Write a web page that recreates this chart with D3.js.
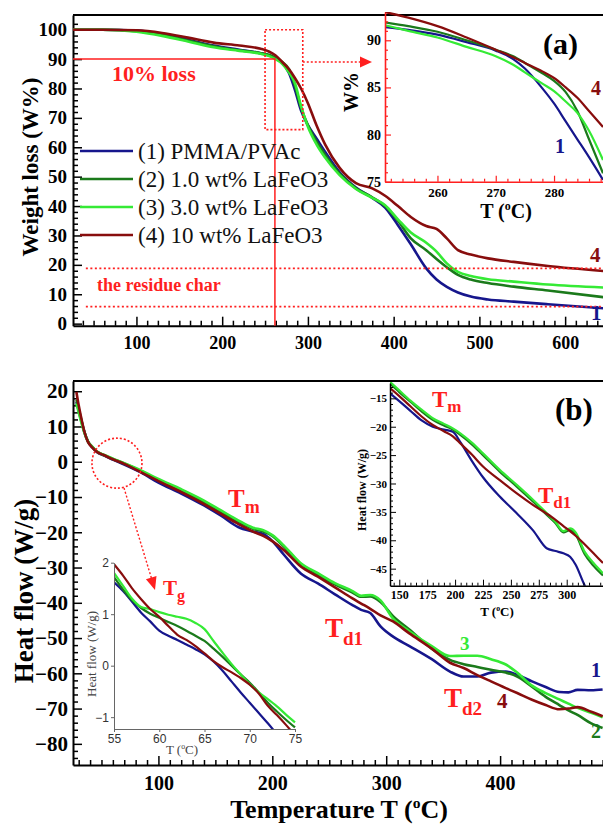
<!DOCTYPE html>
<html>
<head>
<meta charset="utf-8">
<script src="https://cdn.jsdelivr.net/npm/d3@7"></script>
<style>
  body { margin: 0; background: #fff; }
  svg { display: block; }
</style>
</head>
<body>
<svg id="chart" width="603" height="825"></svg>
<script>
// ---- data ----
const seriesNames = ["(1) PMMA/PVAc", "(2) 1.0 wt% LaFeO3", "(3) 3.0 wt% LaFeO3", "(4) 10 wt% LaFeO3"];

// (a) TGA, weight %
const tgaT = [26, 60, 100, 130, 160, 190, 220, 245, 255, 262, 270, 278, 285, 292, 300, 310, 320, 337, 356, 375, 390, 405, 420, 438, 450, 462, 475, 490, 510, 540, 580, 645];
const tgaPMMA = [100, 100, 99.7, 98.5, 96.6, 94.6, 93.2, 92.0, 91.2, 90.3, 88.8, 85.2, 79.4, 72.5, 67.5, 63, 58.5, 51.5, 46.3, 42.8, 39.5, 33.5, 27, 18.8, 15, 12.5, 10.6, 9.2, 8.2, 7.5, 6.6, 5.2];
const tgaLa1 = [100, 100, 99.5, 98.2, 96.3, 94.4, 93.0, 92.0, 91.4, 90.5, 89.0, 86.5, 80.8, 73.5, 67.5, 62, 57.5, 51, 46, 43, 40, 35, 29, 25, 22, 19.2, 16.6, 15, 13.8, 12.6, 11.3, 9.0];
const tgaLa3 = [100, 100, 99.3, 97.9, 96.0, 94.0, 92.8, 91.8, 91.0, 90.0, 88.4, 85.4, 81.7, 74, 67, 61, 56.5, 50.5, 45.8, 42.8, 40.3, 35.5, 31, 27.5, 24.5, 20.5, 17.6, 16.2, 15.1, 14.3, 13.3, 12.3];
const tgaLa10 = [100, 100, 99.8, 98.9, 97.3, 95.6, 94.6, 93.5, 92.5, 91.3, 89.0, 86.5, 83.5, 80, 75, 67.5, 61, 53, 47.8, 46, 43.5, 40, 36.3, 33.2, 32.2, 29, 25, 23.5, 22.2, 21, 19.6, 17.9];
const tgaXTicks = [100, 200, 300, 400, 500, 600];
const tgaYTicks = [0, 10, 20, 30, 40, 50, 60, 70, 80, 90, 100];

// (a) inset
const tgaZoomT = [251, 255, 260, 265, 270, 273, 275, 278, 280, 282, 284, 286, 288.4];
const tgaZoomPMMA = [91.4, 91.1, 90.6, 89.8, 88.9, 88.0, 87.0, 84.9, 83.3, 81.4, 79.5, 77.6, 75.2];
const tgaZoomLa1 = [91.9, 91.5, 90.9, 90.0, 89.0, 88.3, 87.6, 86.5, 85.7, 84.5, 82.5, 79.5, 75.9];
const tgaZoomLa3 = [91.6, 91.0, 90.3, 89.3, 88.3, 87.4, 86.6, 85.4, 84.6, 83.5, 82.3, 80.4, 77.3];
const tgaZoomLa10 = [93.0, 92.4, 91.5, 90.3, 89.0, 88.2, 87.6, 86.7, 86.0, 85.0, 83.9, 82.5, 80.8];
const tgaZoomXTicks = [260, 270, 280];
const tgaZoomYTicks = [75, 80, 85, 90];

// (b) DSC, heat flow W/g
const dscT = [28, 30, 32, 35, 38, 42, 46, 52, 60, 70, 85, 100, 120, 140, 155, 170, 183, 192, 200, 210, 225, 240, 255, 270, 278, 286, 295, 306, 320, 340, 356, 368, 380, 392, 405, 415, 428, 440, 452, 460, 468, 480, 490];
const dscPMMA = [17, 14.5, 12, 8.4, 5.8, 4.1, 2.8, 1.8, 0.6, -0.8, -3.1, -5.9, -9.0, -12.4, -15.3, -18.5, -19.8, -20.5, -22.5, -26.3, -31.7, -34.5, -37.6, -40.6, -42, -42.9, -46.7, -49.6, -52.2, -56, -59.5, -60.9, -60.9, -59.8, -59.5, -60.4, -62.3, -63.9, -65.3, -65.4, -64.7, -64.8, -64.6];
const dscLa1 = [17.5, 15, 12.3, 8.5, 5.9, 4.2, 2.9, 1.9, 0.8, -0.5, -2.7, -5.2, -8.2, -11.5, -14.3, -17, -19, -19.8, -21, -24, -29, -32, -34.8, -37, -38.3, -38.2, -39.8, -43.8, -47.5, -53, -56.2, -57.4, -58.2, -59, -59.8, -60.9, -63.8, -66.7, -69, -70.5, -71.8, -74.2, -75.5];
const dscLa3 = [16.5, 14, 11.5, 8.2, 5.8, 4.2, 2.9, 2.0, 0.9, -0.4, -2.5, -4.9, -7.8, -11, -13.8, -16.6, -18.7, -19.4, -20.8, -23.7, -28.8, -31.6, -34.4, -36.6, -38, -37.8, -39.3, -44.5, -48, -52.3, -55.1, -55, -55, -56, -57.5, -59.8, -63.5, -65.6, -67.4, -68.6, -69.8, -71.2, -72.5];
const dscLa10 = [19.8, 16, 12.8, 8.5, 5.7, 4.0, 2.8, 1.9, 0.7, -0.6, -3.0, -5.5, -8.6, -12, -14.8, -17.6, -19.8, -21, -22.5, -25, -29.7, -32.6, -35.6, -38.7, -40.2, -41.7, -43.6, -45.3, -48.6, -53, -57, -58.5, -60.5, -62.3, -64.2, -65.6, -67.5, -69, -70.2, -70, -69.6, -70.9, -72.2];
const dscXTicks = [100, 200, 300, 400];
const dscYTicks = [-80, -70, -60, -50, -40, -30, -20, -10, 0, 10, 20];

// (b) upper inset
const dscZoomT = [141.7, 150, 160, 170, 180, 190, 198, 205, 215, 225, 240, 255, 270, 282, 290, 297, 303, 308, 316, 324, 332.5];
const dscZoomPMMA = [-14.1, -15.5, -17.2, -18.9, -20.0, -20.5, -20.9, -22.8, -26.0, -28.9, -32.3, -35.2, -38.3, -41.4, -41.9, -42.3, -42.9, -44.3, -47.9, -50.5, -52];
const dscZoomLa1 = [-12.4, -13.9, -15.6, -17.3, -18.8, -19.8, -20.5, -21.5, -23.1, -25.0, -27.9, -30.5, -33.2, -35.5, -37.0, -38.6, -38.2, -39.0, -42.4, -44.5, -46.2];
const dscZoomLa3 = [-12.1, -13.6, -15.4, -17.0, -18.5, -19.5, -20.3, -21.2, -22.8, -24.7, -27.6, -30.2, -32.9, -35.2, -36.8, -38.4, -37.9, -38.6, -42.0, -44.0, -45.8];
const dscZoomLa10 = [-13.2, -14.6, -16.4, -18.2, -19.7, -20.8, -21.7, -23.0, -24.9, -27.0, -29.4, -31.7, -33.8, -35.3, -36.4, -37.5, -38.4, -39.2, -40.7, -42.3, -44.0];
const dscZoomXTicks = [150, 175, 200, 225, 250, 275, 300];
const dscZoomYTicks = [-45, -40, -35, -30, -25, -20, -15];

// (b) lower inset (Tg)
const tgZoomT = [55, 56, 57, 58, 59, 60, 61, 62, 63, 64, 65, 66, 67, 68, 69, 70, 71, 72, 73, 74, 75];
const tgZoomPMMA = [1.62, 1.45, 1.24, 1.03, 0.86, 0.68, 0.58, 0.50, 0.41, 0.32, 0.22, 0.08, -0.10, -0.31, -0.52, -0.72, -0.92, -1.12, -1.33];
const tgZoomLa1 = [1.72, 1.48, 1.27, 1.12, 1.01, 0.93, 0.85, 0.77, 0.68, 0.58, 0.48, 0.33, 0.17, 0.00, -0.17, -0.33, -0.52, -0.72, -0.89, -1.05, -1.20];
const tgZoomLa3 = [1.80, 1.55, 1.30, 1.14, 1.10, 1.04, 0.99, 0.95, 0.91, 0.83, 0.71, 0.48, 0.25, 0.03, -0.17, -0.36, -0.52, -0.65, -0.79, -0.95, -1.10];
const tgZoomLa10 = [1.97, 1.75, 1.50, 1.29, 1.10, 0.95, 0.77, 0.60, 0.50, 0.38, 0.24, 0.09, -0.03, -0.13, -0.24, -0.37, -0.54, -0.78, -0.96, -1.15, -1.35];
const tgZoomXTicks = [55, 60, 65, 70, 75];
const tgZoomYTicks = [-1, 0, 1, 2];

// ---- styles ----
const colors = ["#16168c", "#1b7a1b", "#35ea35", "#880d0d"];
const red = "#ff1f1f";
const serif = '"Liberation Serif", "Times New Roman", serif';
const sans = '"Liberation Sans", Arial, sans-serif';

const svg = d3.select("#chart").attr("font-family", serif);
const defs = svg.append("defs");

function clip(id, x, y, w, h) {
    defs.append("clipPath").attr("id", id)
        .append("rect").attr("x", x).attr("y", y).attr("width", w).attr("height", h);
    return `url(#${id})`;
}

function axis(g, gen, o) {
    g.call(gen)
        .attr("font-family", o.family || serif)
        .attr("font-size", o.size || 10)
        .attr("font-weight", o.weight || "bold");
    g.select(".domain").attr("stroke", o.color || "#000").attr("stroke-width", o.width || 2);
    g.selectAll(".tick line").attr("stroke", o.color || "#000").attr("stroke-width", o.tickWidth || 1.5);
    g.selectAll(".tick text").attr("fill", o.textColor || "#000");
    if (o.noDomain) g.select(".domain").remove();
}

function curves(g, xs, ys, T, list, w) {
    const line = d3.line()
        .x((d, i) => xs(T[i]))
        .y(d => ys(d))
        .curve(d3.curveMonotoneX);
    list.forEach((vals, k) => {
        g.append("path").attr("d", line(vals))
            .attr("fill", "none")
            .attr("stroke", colors[k])
            .attr("stroke-width", w)
            .attr("stroke-linejoin", "round");
    });
}

function tempText(t, size, prefix) {
    t.append("tspan").text(prefix + "(");
    t.append("tspan").attr("font-size", size * 0.6).attr("dy", -size * 0.4).text("o");
    t.append("tspan").attr("dy", size * 0.4).text("C)");
}

function subText(x, y, main, sub, size, subSize, subDy, color) {
    const t = svg.append("text").attr("x", x).attr("y", y)
        .attr("font-size", size).attr("font-weight", "bold").attr("fill", color || red);
    t.append("tspan").text(main);
    t.append("tspan").attr("font-size", subSize).attr("dy", subDy).text(sub);
    return t;
}

function label(x, y, txt, size, color, anchor) {
    return svg.append("text").attr("x", x).attr("y", y)
        .attr("font-size", size).attr("font-weight", "bold")
        .attr("fill", color).attr("text-anchor", anchor || "start").text(txt);
}

function arrowHead(x1, y1, x2, y2, len, half) {
    const a = Math.atan2(y2 - y1, x2 - x1);
    const bx = x2 - len * Math.cos(a), by = y2 - len * Math.sin(a);
    const px = -Math.sin(a) * half, py = Math.cos(a) * half;
    svg.append("polygon")
        .attr("points", `${x2},${y2} ${bx + px},${by + py} ${bx - px},${by - py}`)
        .attr("fill", red);
}

// ================= panel (a) =================
const xA = d3.scaleLinear().domain([26, 650]).range([73, 608]);
const yA = d3.scaleLinear().domain([-0.7, 105]).range([325.7, 15]);

svg.append("line").attr("x1", 73).attr("x2", 603).attr("y1", 15).attr("y2", 15)
    .attr("stroke", "#000").attr("stroke-width", 2);

axis(svg.append("g").attr("transform", "translate(0,325.7)"),
    d3.axisBottom(xA).tickValues(d3.range(37.5, 650, 12.5).filter(v => v % 100 !== 0))
        .tickSizeInner(-5).tickSizeOuter(0).tickFormat(""), { noDomain: true });
axis(svg.append("g").attr("transform", "translate(0,325.7)"),
    d3.axisBottom(xA).tickValues(tgaXTicks).tickSizeInner(-9).tickSizeOuter(0).tickPadding(11),
    { size: 18 });
axis(svg.append("g").attr("transform", "translate(73,0)"),
    d3.axisLeft(yA).tickValues(d3.range(2, 104, 2).filter(v => v % 10 !== 0))
        .tickSizeInner(-5).tickSizeOuter(0).tickFormat(""), { noDomain: true });
axis(svg.append("g").attr("transform", "translate(73,0)"),
    d3.axisLeft(yA).tickValues(tgaYTicks).tickSizeInner(-9).tickSizeOuter(0).tickPadding(6),
    { size: 19 });

const gA = svg.append("g").attr("clip-path", clip("clipA", 73, 15, 530, 311));
curves(gA, xA, yA, tgaT, [tgaPMMA, tgaLa1, tgaLa3, tgaLa10], 2.6);

// 10% loss guide
const tLoss = 261.5;
svg.append("path")
    .attr("d", `M${xA(26)},${yA(90)}H${xA(tLoss)}V${yA(-0.7)}`)
    .attr("fill", "none").attr("stroke", red).attr("stroke-width", 1.5);
label(112, 81, "10% loss", 22, red);

// residue char lines
[18.8, 5.8].forEach(v => {
    svg.append("line").attr("x1", xA(41)).attr("x2", 603).attr("y1", yA(v)).attr("y2", yA(v))
        .attr("stroke", red).attr("stroke-width", 1.6).attr("stroke-dasharray", "2,2.5");
});
label(97, 291, "the residue char", 18, red);

// zoom box + arrow
svg.append("rect")
    .attr("x", xA(250)).attr("y", yA(100))
    .attr("width", xA(294) - xA(250)).attr("height", yA(66) - yA(100))
    .attr("fill", "none").attr("stroke", red).attr("stroke-width", 1.6).attr("stroke-dasharray", "2,2");
svg.append("line").attr("x1", xA(294)).attr("x2", 362).attr("y1", yA(89)).attr("y2", yA(89))
    .attr("stroke", red).attr("stroke-width", 1.6).attr("stroke-dasharray", "2,2");
arrowHead(350, yA(89), 372, yA(89), 12, 5.5);

// legend
seriesNames.forEach((name, i) => {
    const y = 151 + i * 28;
    svg.append("line").attr("x1", 80).attr("x2", 133).attr("y1", y).attr("y2", y)
        .attr("stroke", colors[i]).attr("stroke-width", 2.6);
    svg.append("text").attr("x", 138).attr("y", y + 8).attr("font-size", 23)
        .attr("fill", "#111").text(name);
});

label(590, 262, "4", 21, colors[3]);
label(591, 320, "1", 21, colors[0]);

// axis titles (a)
svg.append("text").attr("transform", "translate(38,167) rotate(-90)")
    .attr("text-anchor", "middle").attr("font-size", 23).attr("font-weight", "bold")
    .text("Weight loss (W%)");

// inset (a)
const xAi = d3.scaleLinear().domain([251, 288.4]).range([385, 603]);
const yAi = d3.scaleLinear().domain([75, 93]).range([181.7, 12]);
svg.append("rect").attr("x", 385).attr("y", 12).attr("width", 218).attr("height", 169.7).attr("fill", "#fff");
svg.append("line").attr("x1", 385).attr("x2", 603).attr("y1", 15).attr("y2", 15)
    .attr("stroke", "#000").attr("stroke-width", 2);
const gAi = svg.append("g").attr("clip-path", clip("clipAi", 385, 12, 218, 169.7));
curves(gAi, xAi, yAi, tgaZoomT, [tgaZoomPMMA, tgaZoomLa1, tgaZoomLa3, tgaZoomLa10], 2.2);

axis(svg.append("g").attr("transform", "translate(0,181.7)"),
    d3.axisBottom(xAi).tickValues(d3.range(252, 289, 2).filter(v => v % 10 !== 0))
        .tickSizeInner(-3).tickSizeOuter(0).tickFormat(""), { noDomain: true, color: red, tickWidth: 1.2 });
axis(svg.append("g").attr("transform", "translate(0,181.7)"),
    d3.axisBottom(xAi).tickValues(tgaZoomXTicks).tickSizeInner(-6).tickSizeOuter(0).tickPadding(6),
    { size: 13, color: red, width: 1.6, tickWidth: 1.2 });
axis(svg.append("g").attr("transform", "translate(385,0)"),
    d3.axisLeft(yAi).tickValues(d3.range(76, 93, 1).filter(v => v % 5 !== 0))
        .tickSizeInner(-3).tickSizeOuter(0).tickFormat(""), { noDomain: true, color: red, tickWidth: 1.2 });
axis(svg.append("g").attr("transform", "translate(385,0)"),
    d3.axisLeft(yAi).tickValues(tgaZoomYTicks).tickSizeInner(-6).tickSizeOuter(0).tickPadding(4),
    { size: 14, color: red, width: 1.6, tickWidth: 1.2 });

svg.append("text").attr("transform", "translate(358,92) rotate(-90)")
    .attr("text-anchor", "middle").attr("font-size", 20).attr("font-weight", "bold").text("W%");
tempText(svg.append("text").attr("x", 506).attr("y", 218).attr("text-anchor", "middle")
    .attr("font-size", 20).attr("font-weight", "bold"), 20, "T ");
label(591, 95, "4", 20, colors[3]);
label(555, 153, "1", 20, colors[0]);
label(543, 54, "(a)", 30, "#000");

// ================= panel (b) =================
const xB = d3.scaleLinear().domain([25, 500]).range([73, 614]);
const yB = d3.scaleLinear().domain([-86, 22.9]).range([765, 381]);

svg.append("line").attr("x1", 73).attr("x2", 603).attr("y1", 381).attr("y2", 381)
    .attr("stroke", "#000").attr("stroke-width", 2);
axis(svg.append("g").attr("transform", "translate(0,765)"),
    d3.axisBottom(xB).tickValues(d3.range(30, 500, 10).filter(v => v % 100 !== 0))
        .tickSizeInner(-5).tickSizeOuter(0).tickFormat(""), { noDomain: true });
axis(svg.append("g").attr("transform", "translate(0,765)"),
    d3.axisBottom(xB).tickValues(dscXTicks).tickSizeInner(-9).tickSizeOuter(0).tickPadding(11),
    { size: 20 });
axis(svg.append("g").attr("transform", "translate(73,0)"),
    d3.axisLeft(yB).tickValues(d3.range(-84, 22, 2).filter(v => v % 10 !== 0))
        .tickSizeInner(-5).tickSizeOuter(0).tickFormat(""), { noDomain: true });
axis(svg.append("g").attr("transform", "translate(73,0)"),
    d3.axisLeft(yB).tickValues(dscYTicks).tickSizeInner(-9).tickSizeOuter(0).tickPadding(5),
    { size: 21 });

const gB = svg.append("g").attr("clip-path", clip("clipB", 73, 381, 530, 384));
curves(gB, xB, yB, dscT, [dscPMMA, dscLa1, dscLa3, dscLa10], 2.6);

// annotations (b)
subText(228, 507, "T", "m", 25, 18, 6);
subText(325, 637, "T", "d1", 27, 19, 8);
subText(444, 707, "T", "d2", 27, 19, 8);
label(460, 650, "3", 19, colors[2]);
label(497, 708, "4", 21, colors[3]);
label(591, 677, "1", 20, colors[0]);
label(591, 738, "2", 20, colors[1]);

svg.append("circle").attr("cx", xB(63.6)).attr("cy", yB(-0.4)).attr("r", 25)
    .attr("fill", "none").attr("stroke", red).attr("stroke-width", 1.6).attr("stroke-dasharray", "2,2");
svg.append("line").attr("x1", 124).attr("y1", 488).attr("x2", 152).attr("y2", 580)
    .attr("stroke", red).attr("stroke-width", 1.4).attr("stroke-dasharray", "2,2");
arrowHead(124, 488, 155, 590, 13, 5.5);

// upper inset (b)
const xBi = d3.scaleLinear().domain([141.7, 332.5]).range([390, 603]);
const yBi = d3.scaleLinear().domain([-48, -12.3]).range([585.7, 383]);
svg.append("rect").attr("x", 390).attr("y", 382).attr("width", 213).attr("height", 203.7).attr("fill", "#fff");
const gBi = svg.append("g").attr("clip-path", clip("clipBi", 390, 382, 213, 203.7));
curves(gBi, xBi, yBi, dscZoomT, [dscZoomPMMA, dscZoomLa1, dscZoomLa3, dscZoomLa10], 2.2);
axis(svg.append("g").attr("transform", "translate(0,585.7)"),
    d3.axisBottom(xBi).tickValues(d3.range(145, 333, 5).filter(v => v % 25 !== 0))
        .tickSizeInner(-3).tickSizeOuter(0).tickFormat(""), { noDomain: true, tickWidth: 1 });
axis(svg.append("g").attr("transform", "translate(0,585.7)"),
    d3.axisBottom(xBi).tickValues(dscZoomXTicks).tickSizeInner(-6).tickSizeOuter(0).tickPadding(5),
    { size: 12, width: 1.5, tickWidth: 1 });
axis(svg.append("g").attr("transform", "translate(390,0)"),
    d3.axisLeft(yBi).tickValues(d3.range(-47, -12, 1).filter(v => v % 5 !== 0))
        .tickSizeInner(-3).tickSizeOuter(0).tickFormat(""), { noDomain: true, tickWidth: 1 });
axis(svg.append("g").attr("transform", "translate(390,0)"),
    d3.axisLeft(yBi).tickValues(dscZoomYTicks).tickSizeInner(-6).tickSizeOuter(0).tickPadding(3),
    { size: 11, width: 1.5, tickWidth: 1 });
svg.append("text").attr("transform", "translate(366,490) rotate(-90)")
    .attr("text-anchor", "middle").attr("font-size", 12).attr("font-weight", "bold").text("Heat flow (W/g)");
tempText(svg.append("text").attr("x", 497).attr("y", 616).attr("text-anchor", "middle")
    .attr("font-size", 13).attr("font-weight", "bold"), 13, "T ");
subText(432, 407, "T", "m", 23, 17, 5);
subText(538, 503, "T", "d1", 23, 17, 5);
label(555, 420, "(b)", 31, "#000");

// lower inset (Tg), transparent background
const xG = d3.scaleLinear().domain([55, 75]).range([114, 295]);
const yG = d3.scaleLinear().domain([-1.23, 2.0]).range([729, 562.7]);
const gG = svg.append("g").attr("clip-path", clip("clipG", 114, 558, 184, 171));
curves(gG, xG, yG, tgZoomT, [tgZoomPMMA, tgZoomLa1, tgZoomLa3, tgZoomLa10], 2.2);
axis(svg.append("g").attr("transform", "translate(0,729)"),
    d3.axisBottom(xG).tickValues(tgZoomXTicks).tickSizeInner(3).tickSizeOuter(0).tickPadding(2)
        .tickFormat(d3.format("d")),
    { size: 12, weight: "normal", family: sans, color: "#666", width: 1, tickWidth: 1, textColor: "#333" });
axis(svg.append("g").attr("transform", "translate(114,0)"),
    d3.axisLeft(yG).tickValues(tgZoomYTicks).tickSizeInner(3).tickSizeOuter(0).tickPadding(2)
        .tickFormat(d3.format("d")),
    { size: 12, weight: "normal", family: sans, color: "#666", width: 1, tickWidth: 1, textColor: "#333" });
svg.append("text").attr("transform", "translate(96,654) rotate(-90)")
    .attr("text-anchor", "middle").attr("font-size", 13).attr("fill", "#444").text("Heat flow (W/g)");
tempText(svg.append("text").attr("x", 182).attr("y", 754).attr("text-anchor", "middle")
    .attr("font-size", 13).attr("fill", "#444"), 13, "T ");
subText(163, 595, "T", "g", 21, 16, 6);

// axis titles (b)
svg.append("text").attr("transform", "translate(33,591) rotate(-90)")
    .attr("text-anchor", "middle").attr("font-size", 27).attr("font-weight", "bold")
    .text("Heat flow (W/g)");
tempText(svg.append("text").attr("x", 339).attr("y", 818).attr("text-anchor", "middle")
    .attr("font-size", 26).attr("font-weight", "bold"), 26, "Temperature T ");
</script>
</body>
</html>
